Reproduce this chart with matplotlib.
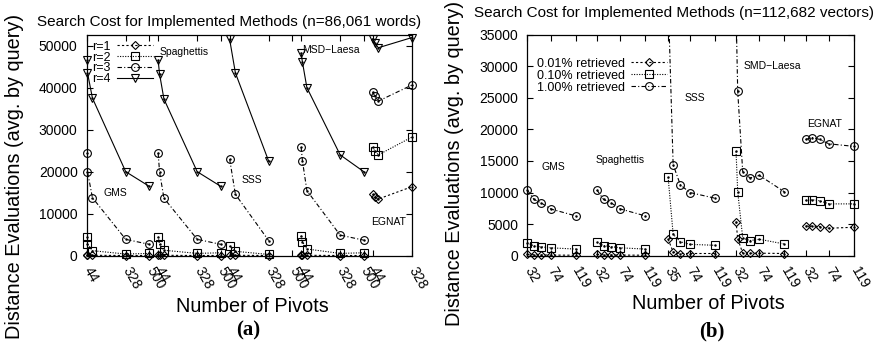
import matplotlib
matplotlib.use("Agg")
import matplotlib.pyplot as plt
import numpy as np
from matplotlib.lines import Line2D
from matplotlib.transforms import ScaledTranslation

plt.rcParams['font.family'] = ['Liberation Sans', 'DejaVu Sans']

# ---- panel (a): n=86,061 words, series r=1..4 ----
methods_a = ["GMS", "Spaghettis", "SSS", "MSD\u2212Laesa", "EGNAT"]
pivots_a = [
    [44, 50, 86, 328, 500],
    [44, 54, 86, 328, 500],
    [44, 86, 328],
    [44, 54, 86, 328, 500],
    [44, 58, 86, 328],
]
r1_a = [
    [200, 150, 100, 50, 50],
    [200, 150, 100, 50, 50],
    [150, 100, 50],
    [200, 150, 100, 50, 50],
    [14600, 14000, 13500, 16400],
]
r2_a = [
    [4500, 2800, 1200, 400, 550],
    [4500, 2700, 1300, 550, 700],
    [2300, 1050, 300],
    [4750, 3300, 1600, 550, 700],
    [25800, 25000, 24000, 28200],
]
r3_a = [
    [24500, 20000, 13800, 3900, 2700],
    [24500, 20000, 13700, 3900, 2700],
    [23000, 14600, 3600],
    [25800, 22500, 15500, 4900, 3700],
    [39000, 38100, 36800, 40600],
]
r4_a = [
    [46500, 43500, 37500, 20000, 16500],
    [46500, 43300, 37300, 20000, 16500],
    [51500, 43500, 22500],
    [48200, 46000, 40000, 24000, 20000],
    [51600, 50700, 49500, 51900],
]
labels_a = ["r=1", "r=2", "r=3", "r=4"]
ticks_a = [44, 328, 500]

# ---- panel (b): n=112,682 vectors, series by fraction retrieved ----
methods_b = ["GMS", "Spaghettis", "SSS", "SMD\u2212Laesa", "EGNAT"]
pivots_b = [
    [32, 44, 57, 74, 119],
    [32, 44, 57, 74, 119],
    [35, 44, 57, 74, 119],
    [32, 35, 44, 57, 74, 119],
    [32, 44, 57, 74, 119],
]
p001_b = [
    [200, 150, 120, 100, 80],
    [200, 150, 120, 100, 80],
    [2600, 600, 350, 350, 350],
    [5400, 2700, 400, 400, 400, 350],
    [4700, 4700, 4600, 4350, 4500],
]
p010_b = [
    [2050, 1550, 1400, 1250, 1050],
    [2100, 1600, 1450, 1250, 1050],
    [12400, 3400, 2200, 1800, 1650],
    [16500, 10150, 2800, 2400, 2600, 1850],
    [8750, 8850, 8700, 8200, 8200],
]
p100_b = [
    [10400, 8900, 8350, 7400, 6300],
    [10400, 8900, 8400, 7400, 6300],
    [41000, 14400, 11200, 10000, 9100],
    [39000, 26000, 13300, 12300, 12700, 10100],
    [18400, 18700, 18400, 17700, 17300],
]
labels_b = ["0.01% retrieved", "0.10% retrieved", "1.00% retrieved"]

styles = [
    dict(ls=(0, (2, 2)), marker="D", ms=4.0),
    dict(ls=(0, (1, 1.3)), marker="s", ms=5.6),
    dict(ls=(0, (4, 2, 1, 2)), marker="o", ms=5.6),
    dict(ls="-", marker="v", ms=5.8),
]


def draw_panel(ax, pivots, series, step, ymax):
    offsets = [i * step for i in range(len(pivots))]
    for vals, st in zip(series, styles):
        for off, px, vy in zip(offsets, pivots, vals):
            x = np.array(px) + off
            y = np.array(vy, dtype=float)
            ax.plot(x, y, color="black", lw=0.8, ls=st["ls"])
            keep = y <= ymax
            ax.plot(x[keep], y[keep], ls="none", marker=st["marker"],
                    ms=st["ms"], mfc="none", mec="black", mew=0.8,
                    clip_on=False, zorder=3)
            ax.plot(x[keep], y[keep], ls="none", marker=".", ms=1.5,
                    color="black", clip_on=False, zorder=3)
    ax.set_xlim(pivots[0][0], offsets[-1] + pivots[-1][-1])
    ax.set_ylim(0, ymax)
    return offsets


def style_axes(ax, ticks, labels):
    ax.set_xticks(ticks)
    ax.set_xticklabels(labels, rotation=-60, ha="left", va="top",
                       rotation_mode="anchor", fontsize=10)
    ax.tick_params(direction="in", top=True, right=True, length=4,
                   width=0.8, labelsize=10)
    ax.tick_params(axis="y", pad=6.5)
    ax.tick_params(axis="x", pad=6.5)
    shift = ScaledTranslation(4.5 / 72, 0, ax.figure.dpi_scale_trans)
    for lab in ax.get_xticklabels():
        lab.set_transform(lab.get_transform() + shift)
    for s in ax.spines.values():
        s.set_linewidth(0.9)


def legend(ax, labels, anchor, spacing):
    handles = [Line2D([], [], color="black", lw=0.8, ls=st["ls"],
                      marker=st["marker"], ms=st["ms"], mfc="none",
                      mec="black", mew=0.8) for st in styles[:len(labels)]]
    ax.legend(handles, labels, loc="upper left", bbox_to_anchor=anchor,
              frameon=False, markerfirst=False, fontsize=9,
              handlelength=2.9, handletextpad=0.5, labelspacing=spacing,
              borderpad=0.1, borderaxespad=0)


fig = plt.figure(figsize=(8.79, 3.45), dpi=100)
ax_a = fig.add_axes([0.0986, 0.2588, 0.3697, 0.6406])
ax_b = fig.add_axes([0.5999, 0.2588, 0.3717, 0.6412])

# panel (a)
off_a = draw_panel(ax_a, pivots_a, [r1_a, r2_a, r3_a, r4_a], 520, 52600)
xmax_a = ax_a.get_xlim()[1]
tk_a = [o + t for o in off_a for t in ticks_a if o + t <= xmax_a]
style_axes(ax_a, tk_a, [str(t) for o in off_a for t in ticks_a if o + t <= xmax_a])
ax_a.set_yticks(range(0, 50001, 10000))
legend(ax_a, labels_a, (0.012, 0.978), -0.1)
for txt, x, y in [("Spaghettis", 578, 48500), ("MSD\u2212Laesa", 1612, 49000),
                  ("SSS", 1168, 18000), ("GMS", 170, 14900),
                  ("EGNAT", 2115, 8000)]:
    ax_a.text(x, y, txt, fontsize=7.5, ha="left", va="center")

# panel (b)
off_b = draw_panel(ax_b, pivots_b, [p001_b, p010_b, p100_b], 125, 35000)
tk_b = [o + t for o, p in zip(off_b, pivots_b) for t in (p[0], 74, 119)]
style_axes(ax_b, tk_b, [str(t) for p in pivots_b for t in (p[0], 74, 119)])
ax_b.set_yticks(range(0, 35001, 5000))
legend(ax_b, labels_b, (0.025, 0.90), 0.0)
for txt, x, y in [("GMS", 58, 14000), ("Spaghettis", 154, 15100),
                  ("SSS", 315, 24900), ("SMD\u2212Laesa", 420, 30000),
                  ("EGNAT", 534, 20900)]:
    ax_b.text(x, y, txt, fontsize=7.5, ha="left", va="center")

# titles and axis labels
fig.text(0.2605, 0.936, "Search Cost for Implemented Methods (n=86,061 words)",
         fontsize=11, ha="center", va="center")
fig.text(0.7668, 0.961, "Search Cost for Implemented Methods (n=112,682 vectors)",
         fontsize=11, ha="center", va="center")
ylab = "Distance Evaluations (avg. by query)"
fig.text(0.017, 0.49, ylab, fontsize=14.3, rotation=90, ha="center", va="center")
fig.text(0.517, 0.525, ylab, fontsize=14.3, rotation=90, ha="center", va="center")
fig.text(0.2867, 0.113, "Number of Pivots", fontsize=14.3, ha="center", va="center")
fig.text(0.8055, 0.119, "Number of Pivots", fontsize=14.3, ha="center", va="center")
fig.text(0.282, 0.043, "(a)", fontsize=15, fontweight="bold",
         family="Liberation Serif", ha="center", va="center")
fig.text(0.81, 0.038, "(b)", fontsize=15, fontweight="bold",
         family="Liberation Serif", ha="center", va="center")

fig.savefig("out.png", dpi=100)
